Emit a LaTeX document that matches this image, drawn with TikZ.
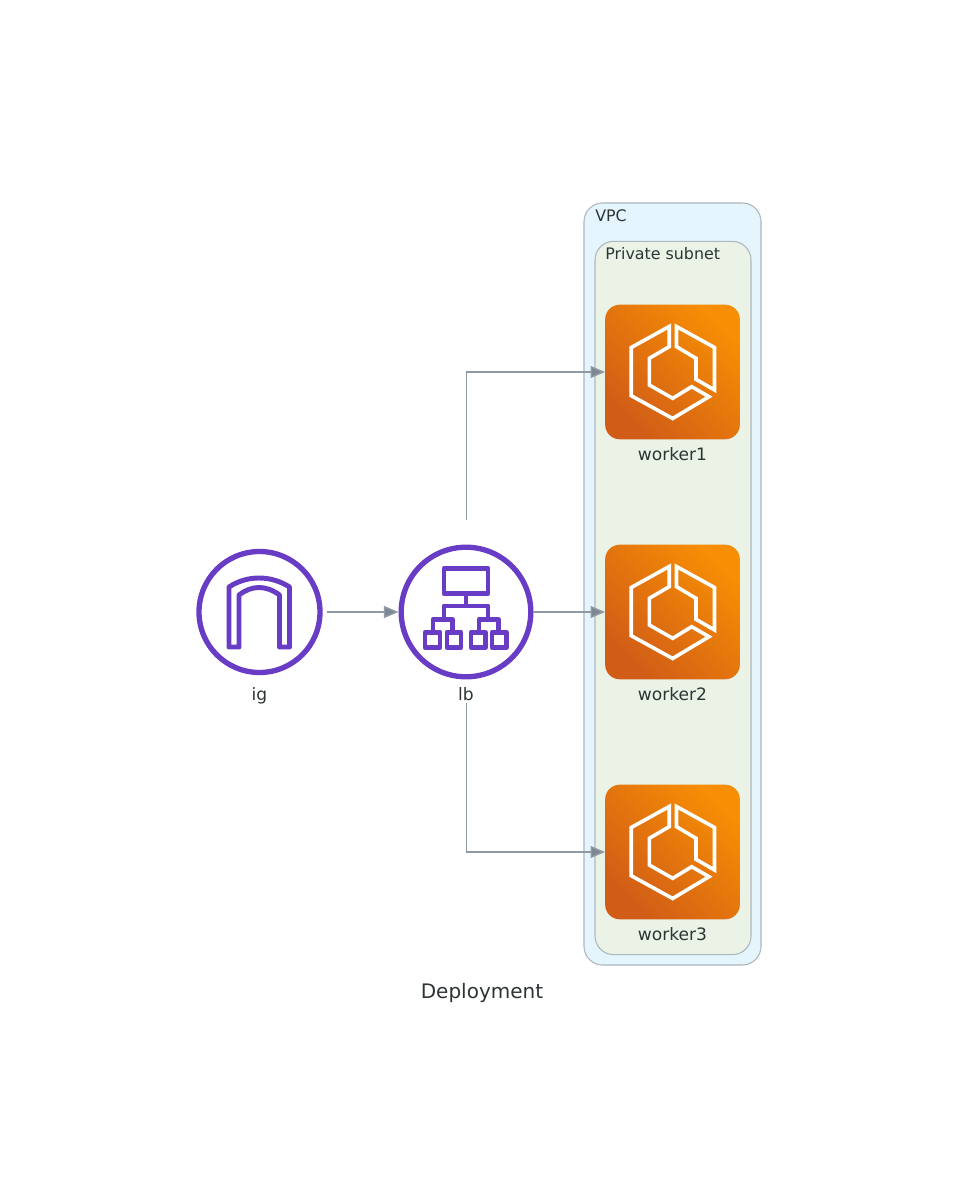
\documentclass[tikz,border=0pt]{standalone}
\usepackage{fontspec}
\setmainfont{DejaVu Sans}
\usetikzlibrary{arrows.meta}
\definecolor{ink}{HTML}{2D3436}
\definecolor{edgegray}{HTML}{7B8894}
\definecolor{purp}{HTML}{693CC5}
\definecolor{boxgray}{HTML}{AEB6BE}
\definecolor{vpcfill}{HTML}{E5F5FD}
\definecolor{subnetfill}{HTML}{EBF3E7}
\definecolor{ecslow}{HTML}{D05C17}
\definecolor{ecshigh}{HTML}{F78E04}
\begin{document}
\begin{tikzpicture}[x=0.75pt,y=-0.75pt,
    cluster/.style={draw=boxgray,line width=0.8pt,rounded corners=14pt,inner sep=0pt,outer sep=0pt},
    clab/.style={font=\fontsize{11.9}{15}\selectfont,text=ink,anchor=base west,inner sep=0pt},
    ecs/.style={rounded corners=11pt,minimum size=101pt,inner sep=0pt,outer sep=0pt,
      bottom color=ecslow,top color=ecshigh,shading angle=-45},
    ring/.style={circle,draw=purp,line width=4pt,fill=white,inner sep=0pt},
    icon/.style={draw=purp,line width=3.7pt,line join=round},
    ecsline/.style={draw=white,line width=2.7pt},
    arr/.style={draw=edgegray!85,line width=1.1pt,-{Triangle[length=11pt,width=9pt,fill=edgegray]}},
    every label/.style={font=\fontsize{12.8}{15}\selectfont,text=ink,inner sep=0pt,text height=9pt,text depth=2.5pt},
    ecsicon/.pic={
      \draw[ecsline] (-3.3,-45.5) -- (-41.3,-24.5) -- (-41.3,23.7) -- (0.2,46.5) -- (36.5,24.7)
        -- (19.2,14.7) -- (0.2,26.3) -- (-23.2,13) -- (-23.2,-13.7) -- (-3.3,-25.3) -- cycle;
      \draw[ecsline] (4,-45.5) -- (42,-24.5) -- (42,18) -- (23.5,7.3) -- (23.5,-13.7)
        -- (4,-25.3) -- cycle;
    }]
  \useasboundingbox (0,0) rectangle (964,1201);
  \node[cluster,fill=vpcfill,minimum width=132.75pt,minimum height=571.5pt] (vpc) at (672.5,584) {};
  \node[cluster,fill=subnetfill,minimum width=117pt,minimum height=535pt] (subnet) at (673,598) {};
  \node[clab] (vpclab) at (595,222) {VPC};
  \node[clab] (subnetlab) at (605,260) {Private subnet};
  \foreach \n/\y in {1/372,2/612,3/852} {
    \node[ecs,label={[label distance=7pt]below:worker\n}] (worker\n) at (672.5,\y) {};
    \pic at (worker\n) {ecsicon};
  }
  \node[ring,minimum size=90.75pt,label={[label distance=9.6pt]below:ig}] (ig) at (259.5,612) {};
  \node[ring,minimum size=97.2pt,label={[label distance=6.6pt]below:lb}] (lb) at (466,612) {};
  \draw[icon] (229,647) -- (229,587) .. controls (247,575) and (271,575) .. (289.5,587)
    -- (289.5,647) -- (279.5,647) -- (279.5,595) .. controls (266,585) and (252,585) .. (239,595)
    -- (239,647) -- cycle;
  \draw[icon] (444,568.5) rectangle (488,593.5);
  \draw[icon] (466,593.5) -- (466,606);
  \draw[icon] (444,619.5) |- (488,606) -- (488,619.5);
  \foreach \a/\b in {433/452.5,479/498.5} {
    \draw[icon] (\a,632) |- (\b,619.5) -- (\b,632);
  }
  \foreach \l/\r in {425/440,447/461,471/485.5,492/506.5} {
    \draw[icon] (\l,632.5) rectangle (\r,647.5);
  }
  \coordinate (igout) at (327,612);
  \coordinate (lbtop) at (466.5,520);
  \coordinate (lbbot) at (466.5,703);
  \draw[arr] (igout) -- (lb);
  \draw[arr] (lb) -- (worker2);
  \draw[arr] (lbtop) |- (worker1);
  \draw[arr] (lbbot) |- (worker3);
  \node[font=\fontsize{15}{18}\selectfont,text=ink,inner sep=0pt] (title) at (482,992.5) {Deployment};
\end{tikzpicture}
\end{document}
